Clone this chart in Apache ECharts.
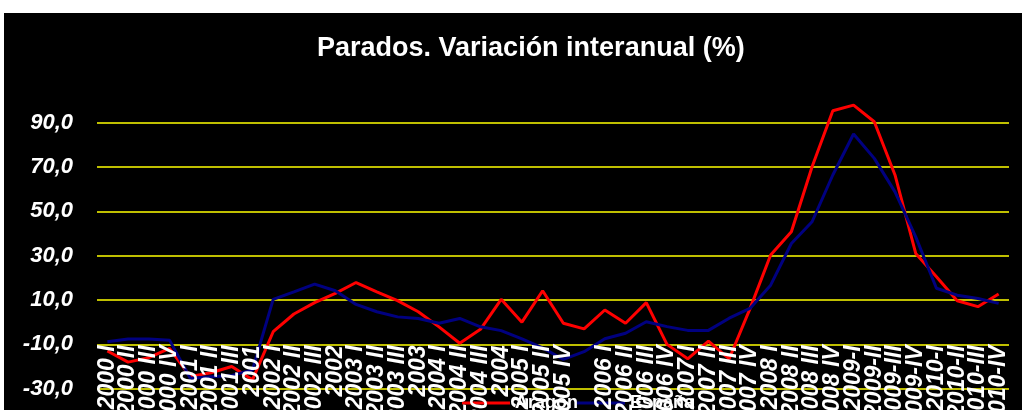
<!DOCTYPE html>
<html>
<head>
<meta charset="utf-8">
<script src="https://cdn.jsdelivr.net/npm/echarts@6/dist/echarts.min.js"></script>
<style>
  html, body { margin: 0; background: #fff; }
  #chart { position: absolute; left: 4px; top: 13px; width: 1018px; height: 397px; }
</style>
</head>
<body>
<div id="chart"></div>
<script>
// trimestres (etiquetas tal como salen en el gráfico)
const categories = [
  '2000 I', '2000 II', '2000 III', '2000 IV',
  '2001 I', '2001 II', '2001 III', '2001',
  '2002 I', '2002 II', '2002 III', '2002',
  '2003 I', '2003 II', '2003 III', '2003',
  '2004 I', '2004 II', '2004 III', '2004',
  '2005 I', '2005 II', '2005 IV', '',
  '2006 I', '2006 II', '2006 III', '2006 IV',
  '2007 I', '2007 II', '2007 III', '2007 IV',
  '2008 I', '2008 II', '2008 III', '2008 IV',
  '2009-I', '2009-II', '2009-III', '2009-IV',
  '2010-I', '2010-II', '2010-III', '2010-IV'
]

const redName = 'Aragón'
const blueName = 'España'

const redValues = [
  -13, -18, -16, -11.8, -24.5, -22.8, -20, -26,
  -4.3, 3.7, 8.8, 13, 17.9, 13.7, 9.7, 4.7,
  -2.1, -9.5, -3.2, 10.3, 0, 14.2, -0.5, -3,
  5.5, -0.5, 8.8, -10, -16.5, -8.5, -16.5, 6,
  30.3, 40.8, 70.1, 95.4, 97.9, 90.4, 66.4, 31,
  20.5, 9.7, 7, 12.7
]

const blueValues = [
  -8.8, -7.6, -7.6, -8.1, -25.3, -24.6, -24, -21.6,
  10.3, 13.7, 17.2, 14.2, 8, 4.7, 2.4, 1.7,
  -0.5, 1.7, -2.1, -3.8, -7.5, -11.6, -16.8, -13.3,
  -7.5, -5, 0.2, -2, -3.7, -3.7, 1.8, 6.2,
  16.7, 35.5, 45.3, 66.4, 84.9, 73.9, 58.8, 38.5,
  15.3, 12.2, 10.7, 8.5
]

const font = 'Liberation Sans, Arial, sans-serif'

const legendText = {
  color: '#fff',
  fontWeight: 'bold',
  fontSize: 18,
  fontFamily: font
}

const myChart = echarts.init(document.getElementById('chart'))

const option = {
  backgroundColor: '#000',
  animation: false,
  title: {
    text: 'Parados. Variación interanual (%)',
    left: 308,
    top: 17,
    textStyle: {
      color: '#fff',
      fontWeight: 'bold',
      fontSize: 27,
      fontFamily: font
    }
  },
  legend: [
    {
      data: [redName],
      left: 453,
      top: 376,
      icon: 'rect',
      itemWidth: 48,
      itemHeight: 3,
      textStyle: legendText
    },
    {
      data: [blueName],
      left: 568,
      top: 376,
      icon: 'rect',
      itemWidth: 48,
      itemHeight: 3,
      textStyle: legendText
    }
  ],
  grid: {
    left: 93,
    right: 13,
    top: 87.5,
    bottom: 21.3,
    containLabel: false,
    outerBoundsMode: 'none'
  },
  xAxis: {
    type: 'category',
    data: categories,
    boundaryGap: true,
    offset: -44.35,
    z: 5,
    axisLine: { show: false },
    axisTick: { show: false },
    axisLabel: {
      interval: 0,
      rotate: 90,
      margin: 1,
      color: '#fff',
      fontWeight: 'bold',
      fontStyle: 'italic',
      fontSize: 23,
      fontFamily: font
    }
  },
  yAxis: {
    type: 'value',
    min: -30,
    max: 100,
    interval: 20,
    axisLine: { show: false },
    axisTick: { show: false },
    splitLine: {
      show: true,
      showMaxLine: false,
      lineStyle: { color: '#ffff00', width: 1.6 }
    },
    axisLabel: {
      margin: 24,
      showMaxLabel: false,
      color: '#fff',
      fontWeight: 'bold',
      fontStyle: 'italic',
      fontSize: 22,
      fontFamily: font,
      formatter: v => v.toFixed(1).replace('.', ',')
    }
  },
  series: [
    {
      name: redName,
      type: 'line',
      data: redValues,
      symbol: 'none',
      lineStyle: { color: '#ff0000', width: 3 },
      itemStyle: { color: '#ff0000' }
    },
    {
      name: blueName,
      type: 'line',
      data: blueValues,
      symbol: 'none',
      lineStyle: { color: '#000080', width: 3 },
      itemStyle: { color: '#000080' }
    }
  ]
}

myChart.setOption(option)
</script>
</body>
</html>
